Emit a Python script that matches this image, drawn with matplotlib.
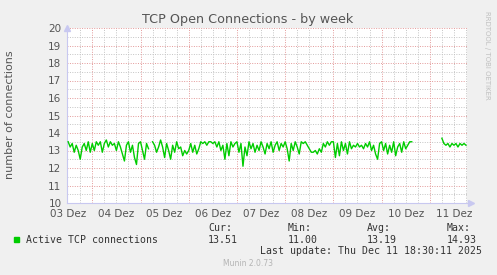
import numpy as np
import pandas as pd
import matplotlib
matplotlib.use('Agg')
import matplotlib.pyplot as plt
import matplotlib.dates as mdates

# hourly values (NaN = no data)
day03 = [13.5, 13.2, 13.4, 12.9, 13.3, 13.0, 12.5, 13.2, 13.4, 13.0, 13.5, 12.9]
day04 = [13.4, 13.0, 13.5, 13.3, 13.5, 12.9, 13.4, 13.6, 13.2, 13.5, 13.3, 13.4,
         13.0, 13.5, 13.2, 12.8, 12.4, 13.3, 13.5, 12.9, 13.3, 12.6, 12.2, 13.4]
day05 = [13.5, 13.0, 12.5, 13.4, 13.1, np.nan, 13.5, 13.3, 12.9, 13.2, 13.6, 13.2,
         12.6, 13.4, 13.0, 12.5, 13.3, 12.9, 13.5, 13.1, 13.2, 12.7, 13.0, 12.8]
day06 = [13.0, 13.4, 12.9, 13.3, 12.8, 13.1, 13.5, 13.4, 13.5, 13.3, 13.5, 13.5,
         13.4, 13.5, 13.2, 13.5, 13.0, 13.3, 12.5, 13.4, 12.7, 13.5, 13.2, 13.4]
day07 = [13.5, 12.9, 13.4, 12.1, 13.2, 12.7, 13.5, 13.1, 13.4, 12.9, 13.3, 13.0,
         13.5, 13.2, 12.8, 13.4, 13.1, 13.5, 12.9, 13.3, 13.5, 13.0, 13.4, 13.2]
day08 = [13.5, 13.1, 12.4, 13.4, 13.0, 13.5, 13.2, 12.8, 13.5, 13.4, 13.5, 13.3,
         13.1, 12.9, 12.9, 13.0, 12.8, 13.1, 12.9, 13.4, 13.2, 13.5, 13.3, 13.5]
day09 = [13.5, 12.6, 13.4, 12.7, 13.5, 13.0, 13.4, 12.8, 13.5, 13.1, 13.3, 13.2,
         13.4, 13.2, 13.3, 13.1, 13.4, 13.2, 13.5, 13.0, 13.3, 12.8, 12.5, 13.4]
day10 = [13.5, 13.0, 13.4, 12.8, 13.3, 12.9, 13.5, 12.7, 13.2, 13.4, 12.9, 13.5,
         13.1, 13.3, 13.5, 13.5] + [np.nan] * 8
day11 = [np.nan] * 6 + [13.7, 13.4, 13.3, 13.4, 13.2, 13.4, 13.3, 13.4, 13.2,
                        13.4, 13.3, 13.4, 13.3]

values = day03 + day04 + day05 + day06 + day07 + day08 + day09 + day10 + day11
times = pd.date_range('2025-12-03 12:00', periods=len(values), freq='h')

day_labels = ['03 Dez', '04 Dez', '05 Dez', '06 Dez', '07 Dez',
              '08 Dez', '09 Dez', '10 Dez', '11 Dez']
legend_stats = {'Cur:': '13.51', 'Min:': '11.00', 'Avg:': '13.19', 'Max:': '14.93'}

W, H = 497, 275
fig = plt.figure(figsize=(W / 100, H / 100), dpi=100, facecolor='#f0f0f0')
ax = fig.add_axes([67 / W, 1 - 203 / H, 400 / W, 175 / H])
ax.set_facecolor('white')

t0 = pd.Timestamp('2025-12-03 11:25')
t1 = pd.Timestamp('2025-12-11 18:30')
ax.set_xlim(t0, t1)
ax.set_ylim(10, 20)

# grid
major_c, minor_c = '#e39999', '#c4c4c4'
dots = (0, (1, 1.5))
for y in np.arange(10.5, 20, 1.0):
    ax.axhline(y, color=minor_c, lw=0.7, ls=dots, zorder=1)
for y in range(11, 21):
    ax.axhline(y, color=major_c, lw=0.7, ls=dots, zorder=1)
for t in pd.date_range('2025-12-03 18:00', t1, freq='6h'):
    if t.hour == 0:
        ax.axvline(t, color=major_c, lw=0.7, ls=dots, zorder=1)
    else:
        ax.axvline(t, color=minor_c, lw=0.7, ls=dots, zorder=1)

ax.plot(times, values, color='#00cc00', lw=1.0, zorder=3)

# axes / ticks
for s in ['top', 'right']:
    ax.spines[s].set_visible(False)
for s in ['left', 'bottom']:
    ax.spines[s].set_color('#c8c8f0')
    ax.spines[s].set_linewidth(0.8)
ax.set_yticks(range(10, 21))
ax.set_yticklabels([str(v) for v in range(10, 21)])
noon = pd.date_range('2025-12-03 12:00', periods=len(day_labels), freq='D')
ax.set_xticks(noon)
ax.set_xticklabels(day_labels)
ax.tick_params(length=0, labelsize=7.5, labelcolor='#555555', pad=4)
ax.plot([0], [1.0], marker='^', color='#c8c8f0', ms=4, transform=ax.transAxes,
        clip_on=False, zorder=5)
ax.plot([1.01], [0], marker='>', color='#c8c8f0', ms=4, transform=ax.transAxes,
        clip_on=False, zorder=5)

fig.text(248 / W, 1 - 19 / H, 'TCP Open Connections - by week', ha='center',
         va='center', fontsize=9.2, color='#555555')
fig.text(10 / W, 1 - 115 / H, 'number of connections', rotation=90, ha='center',
         va='center', fontsize=8, color='#555555')
fig.text(487 / W, 1 - 55 / H, 'RRDTOOL / TOBI OETIKER', rotation=270, ha='center',
         va='center', fontsize=5, color='#c0c0c0')

# legend
mono = 'DejaVu Sans Mono'
fig.patches.append(plt.Rectangle((14 / W, 1 - 242 / H), 5 / W, 5 / H,
                                 transform=fig.transFigure, color='#00cc00'))
fig.text(26 / W, 1 - 240 / H, 'Active TCP connections', family=mono,
         fontsize=7.1, color='#333333', va='center')
for x, (lab, val) in zip([208, 288, 367, 447], legend_stats.items()):
    fig.text(x / W, 1 - 228 / H, lab, family=mono, fontsize=7.1,
             color='#333333', va='center')
    fig.text(x / W, 1 - 240 / H, val, family=mono, fontsize=7.1,
             color='#333333', va='center')
fig.text(482 / W, 1 - 251 / H, 'Last update: Thu Dec 11 18:30:11 2025',
         family=mono, fontsize=7.1, color='#333333', va='center', ha='right')
fig.text(248 / W, 1 - 264 / H, 'Munin 2.0.73', fontsize=5.5, color='#b4b4b4',
         va='center', ha='center')

fig.savefig('out.png', dpi=100, facecolor=fig.get_facecolor())
